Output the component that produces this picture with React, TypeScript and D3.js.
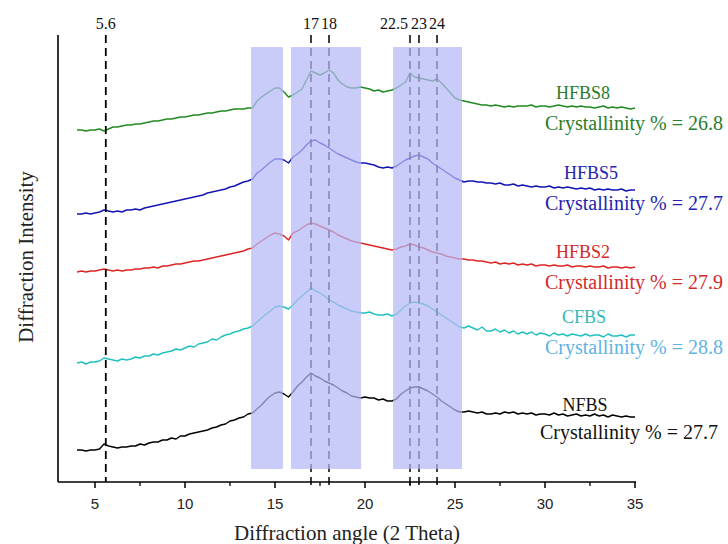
import React from 'react';
import * as d3 from 'd3';

// 2θ sample positions (degrees)
const angles: number[] = d3.range(4, 35.001, 0.25);

// Offset (stacked) diffraction intensities, a.u.
const HFBS8 = [
  352,352,351,352, 352,353,351,353, 355,355,356,357, 357,358,358,359,
  360,361,361,362, 363,363,364,365, 365,366,367,367, 368,369,369,370,
  371,371,372,373, 373,373,374,374, 381,385,388,391, 394,394,390,385,
  387,390,393,402, 411,409,407,409, 412,409,402,398, 395,394,394,395,
  394,393,391,392, 390,391,392,394, 397,400,409,405, 404,403,402,401,
  403,399,394,389, 384,382,381,380, 379,378,377,377, 376,377,376,375,
  376,375,376,376, 376,377,375,376, 376,375,376,377, 376,375,376,375,
  376,375,375,374, 375,376,374,375, 374,375,374,373, 374,
];
const HFBS5 = [
  268,268,269,268, 269,270,272,271, 270,271,270,272, 272,273,272,274,
  275,276,277,278, 279,280,281,282, 283,284,285,286, 287,289,290,291,
  292,293,295,296, 298,300,301,303, 309,312,316,320, 323,323,322,319,
  325,328,332,337, 341,342,339,337, 334,331,328,326, 324,322,320,319,
  319,318,317,315, 314,315,314,316, 319,322,324,326, 327,325,323,319,
  316,313,310,307, 304,302,300,301, 301,300,300,299, 299,298,299,297,
  297,298,296,297, 296,295,296,295, 295,296,294,295, 294,295,294,293,
  294,293,294,292, 293,292,293,292, 292,293,291,292, 292,
];
const HFBS2 = [
  210,211,210,211, 211,212,213,212, 211,212,211,212, 212,213,213,214,
  214,215,214,216, 216,217,218,218, 219,220,221,221, 222,223,224,225,
  226,227,228,229, 230,231,233,234, 238,241,244,247, 249,248,246,242,
  249,251,254,257, 259,258,256,254, 252,250,247,245, 243,241,240,239,
  238,237,236,235, 234,233,232,233, 235,236,238,237, 235,234,232,230,
  229,228,226,225, 224,223,223,222, 222,221,221,220, 219,220,218,219,
  218,219,217,218, 217,218,216,217, 217,216,217,216, 216,217,215,216,
  216,215,216,215, 215,216,214,215, 215,214,215,214, 215,
];
const CFBS = [
  119,120,118,120, 120,121,124,123, 122,121,123,122, 123,125,124,126,
  126,128,127,129, 130,131,133,132, 134,136,135,138, 139,140,143,142,
  145,147,148,150, 151,153,154,156, 160,164,168,171, 175,176,175,173,
  177,182,186,190, 194,191,189,186, 182,180,177,175, 173,171,170,169,
  169,170,168,167, 167,168,166,168, 172,176,179,180, 179,178,176,173,
  170,167,164,161, 158,155,154,156, 154,152,155,151, 151,153,150,152,
  149,151,148,150, 148,150,147,149, 148,146,149,147, 148,146,148,147,
  146,148,146,147, 147,145,148,146, 146,147,145,147, 147,
];
const NFBS = [
  32,32,31,32, 32,33,38,36, 35,34,35,35, 36,36,38,37,
  39,40,40,42, 42,44,43,46, 46,48,49,50, 51,52,54,55,
  57,58,61,62, 64,65,68,69, 73,77,82,86, 89,90,88,85,
  90,96,100,105, 109,106,104,101, 99,97,94,91, 89,86,85,84,
  85,84,84,82, 83,81,81,83, 88,91,94,95, 95,93,91,88,
  85,81,78,75, 72,70,70,71, 70,69,70,68, 68,69,68,70,
  69,70,68,69, 68,69,67,68, 68,67,69,67, 68,66,67,68,
  66,67,66,68, 66,67,65,67, 66,65,66,65, 65,
];

const seriesNames = ['HFBS8', 'HFBS5', 'HFBS2', 'CFBS', 'NFBS'];
const seriesValues = [HFBS8, HFBS5, HFBS2, CFBS, NFBS];
const crystallinity = ['26.8', '27.7', '27.9', '28.8', '27.7'];
const lineColors = ['#1f8a1f', '#1414b4', '#e02424', '#22c1c1', '#000000'];
const nameColors = ['#2a7d2a', '#2323b0', '#d42a2a', '#2fb9b9', '#111111'];
const crystColors = ['#2a7d2a', '#2323b0', '#d42a2a', '#5fb3e3', '#111111'];
const nameY = [93, 173, 252, 317, 405];
const crystY = [123, 203, 282, 347, 432];
const crystX = [545, 545, 545, 545, 540];
const nameX = [583, 591, 583, 584, 585];

const refAngle = 5.6;
const peakAngles = [17, 18, 22.5, 23, 24];
const peakLabels = ['17', '18', '22.5', '23', '24'];
const bands: [number, number][] = [[13.67, 15.44], [15.89, 19.78], [21.56, 25.39]];
const majorTicks = [5, 10, 15, 20, 25, 30, 35];
const minorTicks = [7.5, 12.5, 17.5, 22.5, 27.5, 32.5];

const W = 728, H = 544;
const x = d3.scaleLinear().domain([5, 35]).range([95, 635]);
const y = d3.scaleLinear().domain([0, 447]).range([482, 35]);
const axisLeft = 58;
const axisTop = 35;

export default function App() {
  const line = d3.line<number>().x((_, i) => x(angles[i])).y((d) => y(d));
  const serif = '"Liberation Serif", "Times New Roman", serif';
  const sans = '"Liberation Sans", Arial, sans-serif';
  const bandTop = y(435);
  const bandBottom = y(13);
  return (
    <svg width={W} height={H} style={{ position: 'absolute', left: 0, top: 0, background: '#fff' }}>
      {/* traces */}
      {seriesValues.map((vals, i) => (
        <path key={seriesNames[i]} d={line(vals) || ''} fill="none" stroke={lineColors[i]} strokeWidth={1.4} strokeLinejoin="round" />
      ))}
      {/* reference dashed lines */}
      <line x1={x(refAngle)} x2={x(refAngle)} y1={axisTop} y2={y(0)} stroke="#000" strokeWidth={1.8} strokeDasharray="8,5" />
      {peakAngles.map((a) => (
        <line key={a} x1={x(a)} x2={x(a)} y1={axisTop} y2={y(0) + 4} stroke="#000" strokeWidth={1.5} strokeDasharray="8,5" />
      ))}
      {/* shaded bands (overlay) */}
      {bands.map(([a, b]) => (
        <rect key={a} x={x(a)} y={bandTop} width={x(b) - x(a)} height={bandBottom - bandTop} fill="#b4b9f5" fillOpacity={0.72} />
      ))}
      {/* axes */}
      <line x1={axisLeft} x2={axisLeft} y1={axisTop} y2={y(0)} stroke="#000" strokeWidth={1.6} />
      <line x1={axisLeft} x2={x(35) + 1} y1={y(0)} y2={y(0)} stroke="#000" strokeWidth={1.6} />
      {majorTicks.map((t) => (
        <g key={t}>
          <line x1={x(t)} x2={x(t)} y1={y(0)} y2={y(0) + 6} stroke="#000" strokeWidth={1.5} />
          <text x={x(t)} y={y(0) + 27} textAnchor="middle" fontFamily={sans} fontSize={15} fill="#222">{t}</text>
        </g>
      ))}
      {minorTicks.map((t) => (
        <line key={t} x1={x(t)} x2={x(t)} y1={y(0)} y2={y(0) + 4} stroke="#000" strokeWidth={1.3} />
      ))}
      {/* peak labels */}
      <text x={x(refAngle)} y={29} textAnchor="middle" fontFamily={serif} fontSize={16} fill="#111">5.6</text>
      {peakLabels.map((l, i) => (
        <text key={l} x={l === '22.5' ? x(peakAngles[i]) - 2 : x(peakAngles[i])} y={29}
          textAnchor={l === '22.5' ? 'end' : 'middle'} fontFamily={serif} fontSize={16} fill="#111">{l}</text>
      ))}
      {/* series labels */}
      {seriesNames.map((n, i) => (
        <g key={n}>
          <text x={nameX[i]} y={nameY[i]} dy="0.35em" textAnchor="middle" fontFamily={serif} fontSize={18} fill={nameColors[i]}>{n}</text>
          <text x={crystX[i]} y={crystY[i]} dy="0.35em" textAnchor="start" fontFamily={serif} fontSize={20} fill={crystColors[i]}>{`Crystallinity % = ${crystallinity[i]}`}</text>
        </g>
      ))}
      {/* axis titles */}
      <text x={347} y={540} textAnchor="middle" fontFamily={serif} fontSize={21} fill="#222">Diffraction angle (2 Theta)</text>
      <text transform={`translate(33,257) rotate(-90)`} textAnchor="middle" fontFamily={serif} fontSize={21} fill="#222">Diffraction Intensity</text>
    </svg>
  );
}
